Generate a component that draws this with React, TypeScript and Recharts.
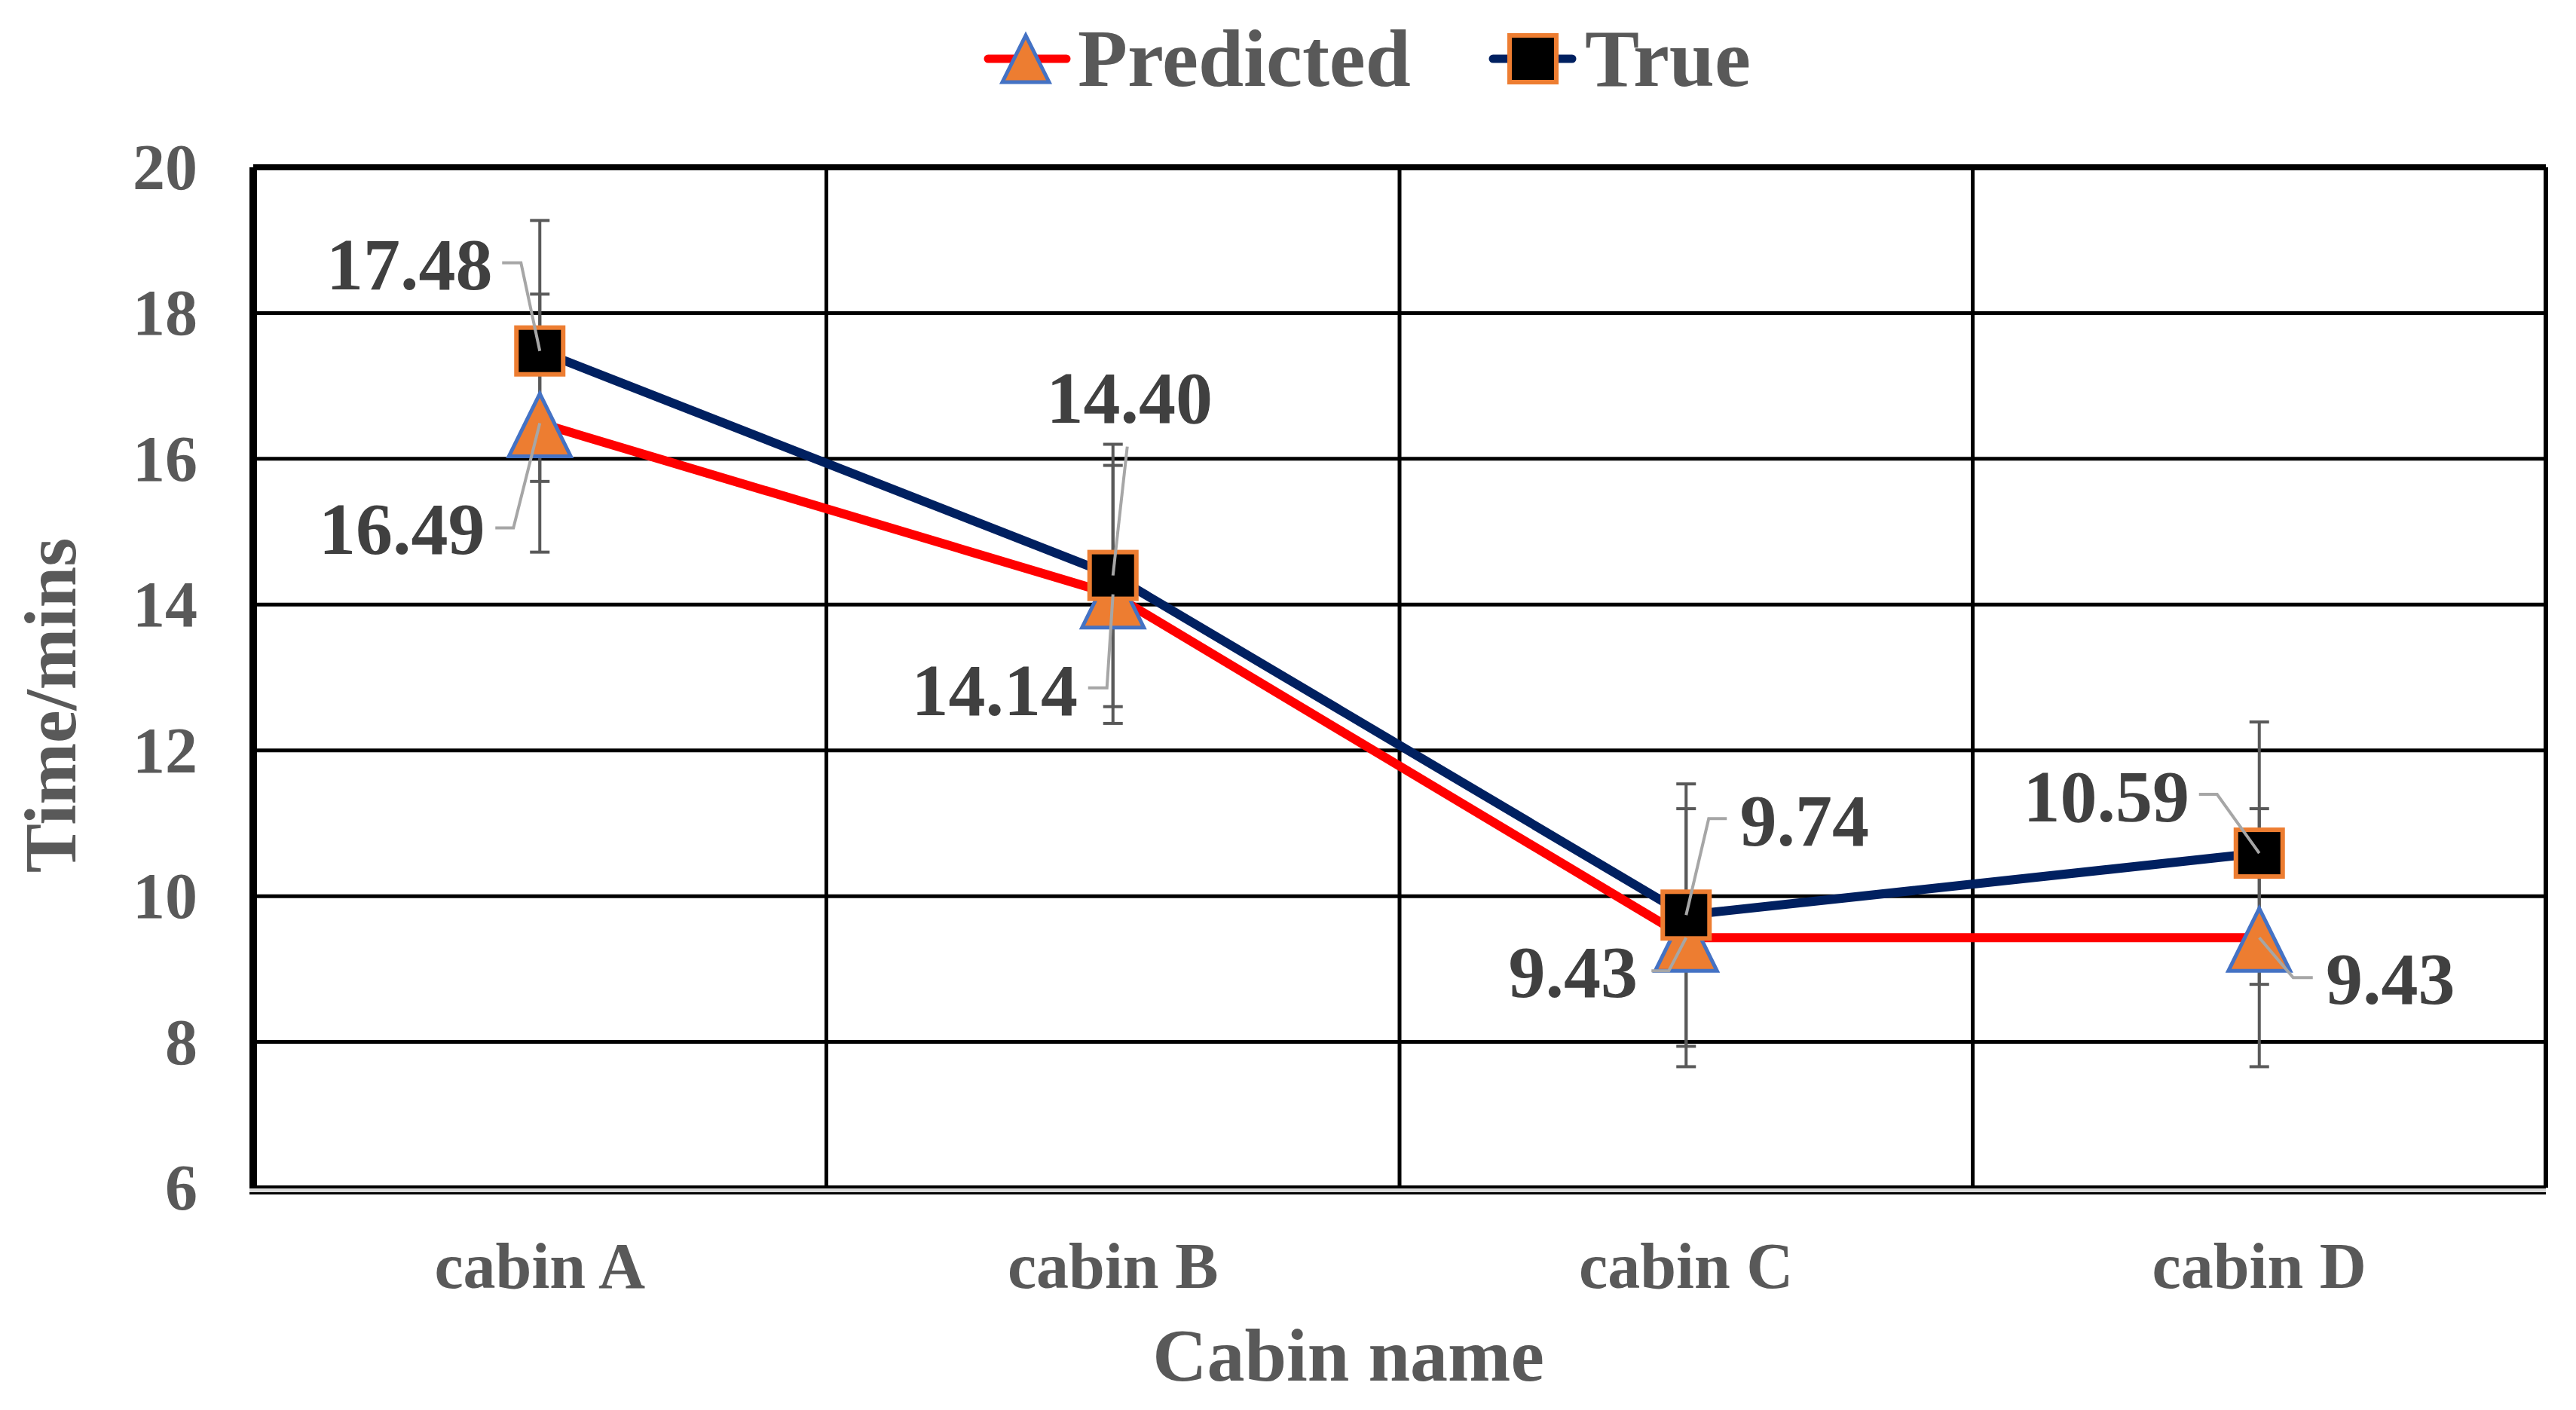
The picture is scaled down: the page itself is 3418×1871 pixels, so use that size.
import React from "react";
import { LineChart, Line, XAxis, YAxis, CartesianGrid, ErrorBar, ReferenceLine } from "recharts";

const W = 3418;
const H = 1871;
const FONT = '"Liberation Serif", "Times New Roman", serif';

const cabins = ["cabin A", "cabin B", "cabin C", "cabin D"];
const predicted = [16.49, 14.14, 9.43, 9.43];
const measured = [17.48, 14.4, 9.74, 10.59];
const predictedErr = [1.77, 1.77, 1.77, 1.77];
const measuredErr = [1.79, 1.8, 1.8, 1.8];
const yTicks = [6, 8, 10, 12, 14, 16, 18, 20];
const xTicks = [0.5, 1.5, 2.5, 3.5];
const dividers = [1, 2, 3];

const data = cabins.map((name, i) => ({
  name,
  pos: i + 0.5,
  predicted: predicted[i],
  measured: measured[i],
  predictedErr: predictedErr[i],
  measuredErr: measuredErr[i],
}));

// label centre (dx, dy) and leader start / elbow, relative to the marker
const predLabelPos = [
  { dx: -183, dy: 141, lx: -59, ly: 139, ex: -35 },
  { dx: -157, dy: 127, lx: -33, ly: 124, ex: -8 },
  { dx: -150, dy: 46, lx: -46, ly: 44, ex: -23 },
  { dx: 174, dy: 55, lx: 71, ly: 53, ex: 45 },
];
const trueLabelPos = [
  { dx: -173, dy: -115, lx: -50, ly: -117, ex: -25 },
  { dx: 22, dy: -236, lx: 19, ly: -171, ex: 19 },
  { dx: 157, dy: -125, lx: 54, ly: -128, ex: 30 },
  { dx: -203, dy: -75, lx: -80, ly: -78, ex: -56 },
];

const triangleDot = (props: any) => {
  const { cx, cy, index } = props;
  if (cx == null || cy == null) return <g key={`tri-${index}`} />;
  return (
    <polygon
      key={`tri-${index}`}
      points={`${cx},${cy - 39} ${cx + 41},${cy + 44} ${cx - 41},${cy + 44}`}
      fill="#ED7D31"
      stroke="#4472C4"
      strokeWidth={5}
    />
  );
};

const squareDot = (props: any) => {
  const { cx, cy, index } = props;
  if (cx == null || cy == null) return <g key={`sq-${index}`} />;
  return (
    <rect
      key={`sq-${index}`}
      x={cx - 31}
      y={cy - 31}
      width={62}
      height={62}
      fill="#000"
      stroke="#ED7D31"
      strokeWidth={6}
    />
  );
};

const makeLabel = (pos: typeof predLabelPos, key: string) => (props: any) => {
  const { cx, cy, index } = props;
  if (cx == null || cy == null) return <g key={`${key}-lbl-${index}`} />;
  const p = pos[index];
  const v = props.payload ? props.payload[key] : props.value;
  return (
    <g key={`${key}-lbl-${index}`}>
      <polyline
        points={`${cx + p.lx},${cy + p.ly} ${cx + p.ex},${cy + p.ly} ${cx},${cy}`}
        fill="none"
        stroke="#A6A6A6"
        strokeWidth={4}
      />
      <text
        x={cx + p.dx}
        y={cy + p.dy}
        textAnchor="middle"
        dominantBaseline="central"
        fontFamily={FONT}
        fontWeight={700}
        fontSize={98}
        fill="#404040"
      >
        {Number(v).toFixed(2)}
      </text>
    </g>
  );
};

const XTick = (props: any) => {
  const { x, y, payload } = props;
  return (
    <text x={x} y={y + 133} textAnchor="middle" fontFamily={FONT} fontWeight={700} fontSize={86} fill="#595959">
      {cabins[Math.floor(payload.value)]}
    </text>
  );
};

const YTick = (props: any) => {
  const { x, y, payload } = props;
  return (
    <text x={x - 74} y={y} textAnchor="end" dominantBaseline="central" fontFamily={FONT} fontWeight={700} fontSize={86} fill="#595959">
      {payload.value}
    </text>
  );
};

const bottomEdge = (props: any) => {
  const { x1, x2, y1 } = props;
  return (
    <g>
      <line x1={x1 - 5} x2={x2} y1={y1 - 1} y2={y1 - 1} stroke="#000" strokeWidth={4} />
      <line x1={x1 - 5} x2={x2} y1={y1 + 3.5} y2={y1 + 3.5} stroke="#D9D9D9" strokeWidth={5} />
      <line x1={x1 - 5} x2={x2} y1={y1 + 7.5} y2={y1 + 7.5} stroke="#000" strokeWidth={3} />
    </g>
  );
};

function LegendRow() {
  return (
    <div
      style={{
        position: "absolute",
        left: 1305,
        top: 0,
        height: 156,
        display: "flex",
        alignItems: "center",
        fontFamily: FONT,
        fontWeight: 700,
        fontSize: 108,
        lineHeight: 1,
        color: "#595959",
        whiteSpace: "nowrap",
      }}
    >
      <svg width={116} height={80}>
        <line x1={6} y1={40} x2={110} y2={40} stroke="#FF0000" strokeWidth={11} strokeLinecap="round" />
        <polygon points="56,9 87,71 25,71" fill="#ED7D31" stroke="#4472C4" strokeWidth={5} />
      </svg>
      <span style={{ marginLeft: 9 }}>Predicted</span>
      <svg width={117} height={80} style={{ marginLeft: 103 }}>
        <line x1={6} y1={40} x2={111} y2={40} stroke="#002060" strokeWidth={11} strokeLinecap="round" />
        <rect x={28} y={9} width={62} height={62} fill="#000" stroke="#ED7D31" strokeWidth={6} />
      </svg>
      <span style={{ marginLeft: 11 }}>True</span>
    </div>
  );
}

export default function App() {
  return (
    <div style={{ position: "absolute", left: 0, top: 0, width: W, height: H, background: "#fff" }}>
      <LineChart width={W} height={H} data={data} margin={{ top: 222, right: 40, bottom: 0, left: 0 }}>
        <CartesianGrid vertical={false} stroke="#000" strokeWidth={5} />
        {dividers.map((d) => (
          <ReferenceLine key={d} x={d} stroke="#000" strokeWidth={5} />
        ))}
        <ReferenceLine x={4} stroke="#000" strokeWidth={6} />
        <ReferenceLine y={20} stroke="#000" strokeWidth={8} />
        <ReferenceLine y={6} shape={bottomEdge} />
        <XAxis
          type="number"
          dataKey="pos"
          domain={[0, 4]}
          ticks={xTicks}
          axisLine={false}
          tickLine={false}
          tickSize={0}
          tickMargin={0}
          height={295}
          tick={<XTick />}
          label={() => (
            <text x={1789} y={1832} textAnchor="middle" fontFamily={FONT} fontWeight={700} fontSize={100} fill="#595959">
              Cabin name
            </text>
          )}
        />
        <YAxis
          type="number"
          domain={[6, 20]}
          ticks={yTicks}
          interval={0}
          width={336}
          axisLine={{ stroke: "#000", strokeWidth: 10 }}
          tickLine={false}
          tickSize={0}
          tickMargin={0}
          tick={<YTick />}
          label={() => (
            <text
              x={67}
              y={936}
              transform="rotate(-90 67 936)"
              textAnchor="middle"
              dominantBaseline="central"
              fontFamily={FONT}
              fontWeight={700}
              fontSize={98}
              fill="#595959"
            >
              Time/mins
            </text>
          )}
        />
        <Line type="linear" dataKey="predicted" stroke="#FF0000" strokeWidth={12} dot={false} activeDot={false} isAnimationActive={false} legendType="none">
          <ErrorBar dataKey="predictedErr" direction="y" width={13} stroke="#595959" strokeWidth={4} isAnimationActive={false} />
        </Line>
        <Line type="linear" dataKey="measured" stroke="#002060" strokeWidth={12} dot={false} activeDot={false} isAnimationActive={false} legendType="none">
          <ErrorBar dataKey="measuredErr" direction="y" width={13} stroke="#595959" strokeWidth={4} isAnimationActive={false} />
        </Line>
        <Line type="linear" dataKey="predicted" stroke="none" dot={triangleDot} activeDot={false} isAnimationActive={false} legendType="none" />
        <Line type="linear" dataKey="measured" stroke="none" dot={squareDot} activeDot={false} isAnimationActive={false} legendType="none" />
        <Line type="linear" dataKey="predicted" stroke="none" dot={makeLabel(predLabelPos, "predicted")} activeDot={false} isAnimationActive={false} legendType="none" />
        <Line type="linear" dataKey="measured" stroke="none" dot={makeLabel(trueLabelPos, "measured")} activeDot={false} isAnimationActive={false} legendType="none" />
      </LineChart>
      <LegendRow />
    </div>
  );
}
